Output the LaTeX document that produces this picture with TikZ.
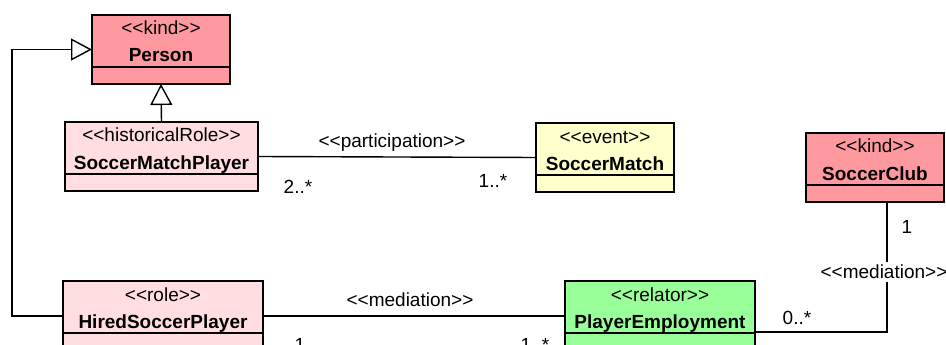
\documentclass[tikz,border=0pt]{standalone}
\usepackage{fontspec}
\setmainfont{Liberation Sans}
\usetikzlibrary{arrows.meta}
\definecolor{kindfill}{RGB}{255,153,160}
\definecolor{rolefill}{RGB}{255,221,224}
\definecolor{eventfill}{RGB}{255,255,204}
\definecolor{relfill}{RGB}{153,255,153}
\tikzset{
  classbox/.style={draw, line width=1.4pt, minimum height=69pt, anchor=north west, inner sep=0pt, outer sep=0pt},
  stereo/.style={font=\fontsize{19}{22}\selectfont, anchor=base, inner sep=0pt},
  cname/.style={font=\fontsize{19}{22}\selectfont\bfseries, anchor=base, inner sep=0pt},
  lbl/.style={font=\fontsize{19}{22}\selectfont, inner sep=1pt},
  conn/.style={line width=1.4pt},
  gen/.style={conn, -{Triangle[open, fill=white, length=21pt, width=22pt]}},
}
% class box: name, x, y (top-left), width, fill, stereotype, title
\newcommand\umlclass[7]{%
  \node[classbox, fill=#5, minimum width=#4] (#1) at (#2,#3) {};
  \draw[conn] ([yshift=-52pt]#1.north west) -- ([yshift=-52pt]#1.north east);
  \node[stereo] (#1-st) at ([yshift=-20pt]#1.north) {#6};
  \node[cname] (#1-nm) at ([yshift=-47pt]#1.north) {#7};
}
\begin{document}
\begin{tikzpicture}[x=1pt, y=-1pt]
\useasboundingbox (0,0) rectangle (946,345);
\clip (0,0) rectangle (946,345);
\fill[white] (0,0) rectangle (946,345);

\umlclass{person}{92}{15}{138pt}{kindfill}{<{}<kind>{}>}{Person}
\umlclass{smp}{65}{122}{193pt}{rolefill}{<{}<historicalRole>{}>}{SoccerMatchPlayer}
\umlclass{sm}{536}{123}{138pt}{eventfill}{<{}<event>{}>}{SoccerMatch}
\umlclass{sc}{806}{133}{138pt}{kindfill}{<{}<kind>{}>}{SoccerClub}
\umlclass{hsp}{63}{281}{200pt}{rolefill}{<{}<role>{}>}{HiredSoccerPlayer}
\umlclass{pe}{565}{281}{190pt}{relfill}{<{}<relator>{}>}{PlayerEmployment}

% generalizations
\draw[gen] (smp.north) -- (person.south);
\draw[gen] ([yshift=-35pt]hsp.north west) -- ++(-51pt,0) |- (person.west);

% participation
\draw[conn] (smp.east) -- (sm.west);
\node[lbl] (partlbl) at (392,143) {<{}<participation>{}>};
\node[lbl] (m1) at (298,187) {2..*};
\node[lbl] (m2) at (493,181) {1..*};

% mediation: hired player -- employment
\draw[conn] ([yshift=-35pt]hsp.north east) -- ([yshift=-35pt]pe.north west);
\node[lbl] (medlbl1) at (410,300) {<{}<mediation>{}>};
\node[lbl, anchor=base] (m3) at (300,351) {1};
\node[lbl, anchor=base] (m4) at (535,351) {1..*};

% mediation: employment -- club
\coordinate (clubfoot) at ([xshift=81pt]sc.south west);
\draw[conn] ([yshift=-51pt]pe.north east) -| (clubfoot);
\node[lbl, fill=white, inner sep=3pt] (medlbl2) at (884,272) {<{}<mediation>{}>};
\node[lbl] (m5) at (797,318) {0..*};
\node[lbl] (m6) at (907,227) {1};
\end{tikzpicture}
\end{document}
